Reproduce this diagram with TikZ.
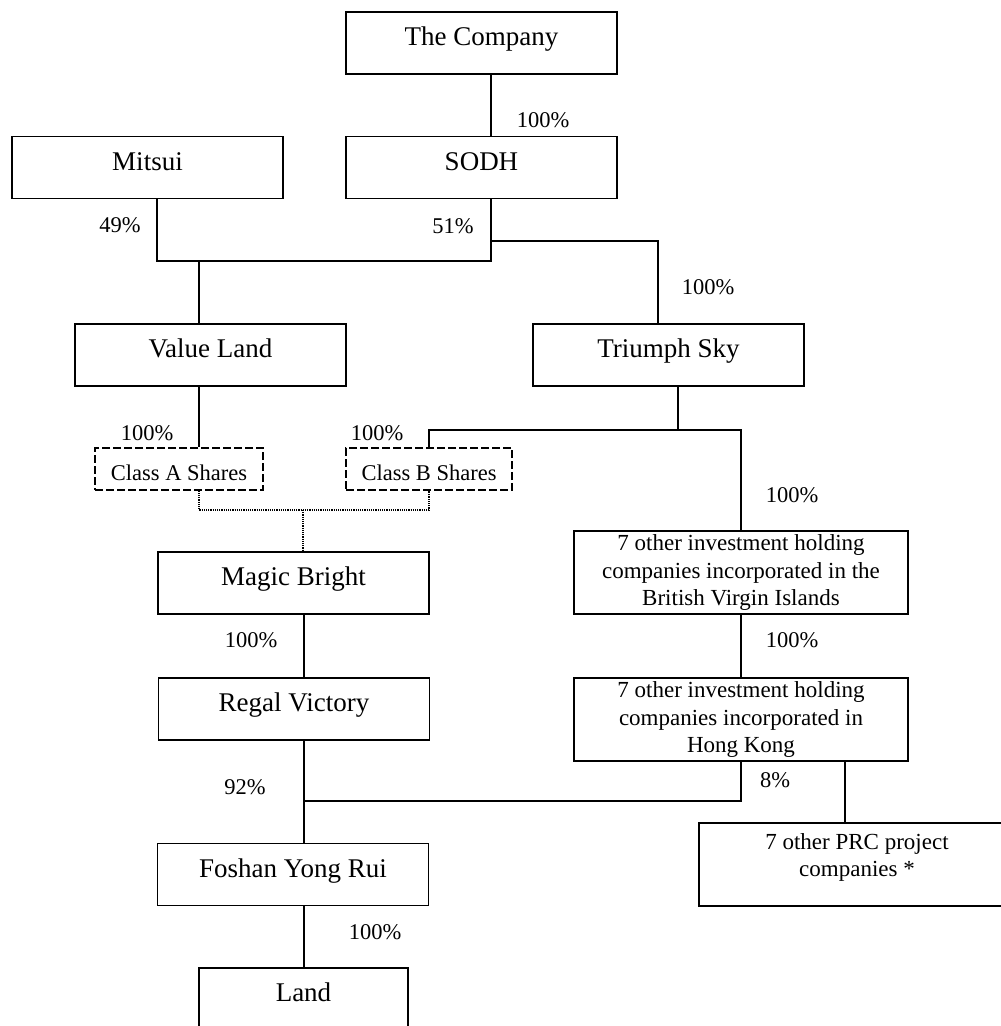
\documentclass[tikz,border=0pt]{standalone}
\usepackage{fontspec}
\setmainfont{Liberation Serif}
\usepackage{tikz}
\usetikzlibrary{positioning}
\tikzset{box/.style={rectangle,draw,line width=1.2pt,minimum width=271pt,minimum height=62pt,inner sep=0pt,
    text height=18pt,text depth=12.5pt,font=\fontsize{27}{32}\selectfont}}
\tikzset{share/.style={rectangle,draw,line width=1.2pt,dash pattern=on 8pt off 3pt,minimum height=42pt,inner sep=0pt,
    text height=23.4pt,text depth=0pt,font=\fontsize{22.5}{27}\selectfont}}
\tikzset{hold/.style={rectangle,draw,line width=1.2pt,minimum width=334pt,minimum height=83pt,inner sep=0pt,
    align=center,font=\fontsize{23}{27.5}\selectfont}}
\tikzset{pct/.style={inner sep=0pt,font=\fontsize{22.5}{27}\selectfont}}
\tikzset{link/.style={line width=1.2pt}}

\begin{document}
\begin{tikzpicture}[x=1pt,y=-1pt]
    \useasboundingbox (0,0) rectangle (1001,1026);

    \node[box] (comp) at (481.5,43) {The Company};
    \node[box] (sodh) at (481.5,167.5) {SODH};
    \node[box] (mitsui) at (147.5,167.5) {Mitsui};
    \node[box] (vland) at (210.5,355) {Value Land};
    \node[box] (tsky) at (668.5,355) {Triumph Sky};
    \node[share,minimum width=168pt] (clsa) at (179,469) {Class A Shares};
    \node[share,minimum width=166pt] (clsb) at (429,469) {Class B Shares};
    \node[box] (magic) at (293.5,583) {Magic Bright};
    \node[box] (regal) at (294,709) {Regal Victory};
    \node[box] (foshan) at (293,874.5) {Foshan Yong Rui};
    \node[box,minimum width=209pt] (land) at (303.5,999) {Land};
    \node[hold] (bvi) at (741,572.5) {7 other investment holding\\companies incorporated in the\\British Virgin Islands};
    \node[hold] (hk) at (741,719.5) {7 other investment holding\\companies incorporated in\\Hong Kong};
    \node[hold,minimum width=316pt,text depth=19pt] (prc) at (857,864.5) {7 other PRC project\\companies *};

    \coordinate (j1) at (491,261);
    \coordinate (j2) at (157,261);
    \coordinate (j3) at (199,261);
    \coordinate (j4) at (491,241);
    \coordinate (j5) at (658,241);
    \coordinate (j6) at (678,430);
    \coordinate (j7) at (clsb.north |- j6);
    \coordinate (j8) at (bvi.north |- j6);
    \coordinate (j9) at (199,510);
    \coordinate (j10) at (clsb.south |- j9);
    \coordinate (j11) at (303,510);
    \coordinate (j12) at (304,801);
    \coordinate (j13) at (hk.south |- j12);
    \coordinate (j14) at (845,790);

    \draw[link] (comp.south -| j1) -- (sodh.north -| j1);
    \draw[link] (mitsui.south -| j2) -- (j2) -- (j1) -- (sodh.south -| j1);
    \draw[link] (j3) -- (vland.north -| j3);
    \draw[link] (j4) -- (j5) -- (tsky.north -| j5);
    \draw[link] (tsky.south -| j6) -- (j6);
    \draw[link] (clsb.north) -- (j7) -- (j8) -- (bvi.north);
    \draw[link] (vland.south -| j3) -- (clsa.north -| j3);
    \draw[link,densely dotted,line width=1.1pt] (clsa.south -| j9) -- (j9) -- (j10) -- (clsb.south);
    \draw[link,densely dotted,line width=1.1pt] (j11) -- (magic.north -| j11);
    \draw[link] (magic.south -| j12) -- (regal.north -| j12);
    \draw[link] (regal.south -| j12) -- (foshan.north -| j12);
    \draw[link] (j12) -- (j13) -- (hk.south);
    \draw[link] (bvi) -- (hk);
    \draw[link] (hk.south -| j14) -- (prc.north -| j14);
    \draw[link] (foshan.south -| j12) -- (land.north -| j12);

    \node[pct] (p1) at (543,120) {100\%};
    \node[pct] (p2) at (120,225) {49\%};
    \node[pct] (p3) at (453,226) {51\%};
    \node[pct] (p4) at (708,287) {100\%};
    \node[pct] (p5) at (147,433) {100\%};
    \node[pct] (p6) at (377,433) {100\%};
    \node[pct] (p7) at (792,495) {100\%};
    \node[pct] (p8) at (251,640) {100\%};
    \node[pct] (p9) at (792,640) {100\%};
    \node[pct] (p10) at (245,787) {92\%};
    \node[pct] (p11) at (775,780) {8\%};
    \node[pct] (p12) at (375,932) {100\%};
\end{tikzpicture}
\end{document}
